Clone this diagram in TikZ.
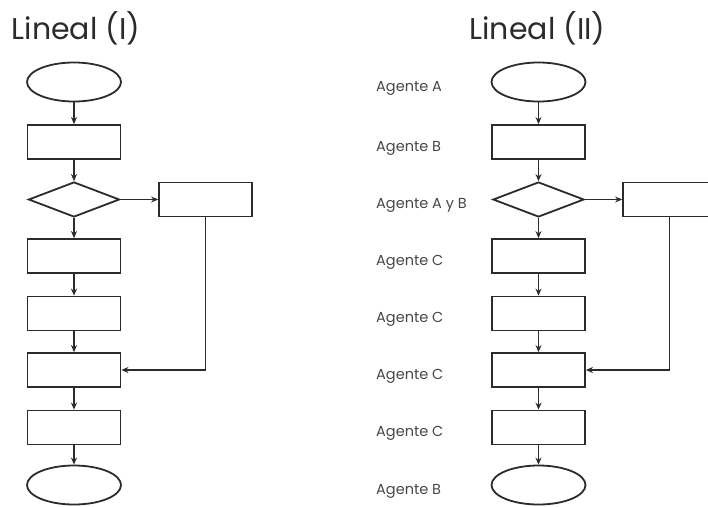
\documentclass[tikz,border=0pt]{standalone}
\usepackage{fontspec}
\setmainfont{Poppins}
\usetikzlibrary{shapes.geometric,arrows.meta}
\definecolor{inkgray}{HTML}{2B2B2B}
\definecolor{labelgray}{HTML}{474747}

\begin{document}
\begin{tikzpicture}[x=1pt,y=-1pt,>={Stealth[length=7pt,width=6pt]},draw=inkgray]
	\def \colone{74}
	\def \coltwo{538.5}
	\def \sideone{205.5}
	\def \sidetwo{669.5}
	\def \labelx{376}
	\def \rowa{82}
	\def \rowb{142}
	\def \rowc{199.5}
	\def \rowd{256}
	\def \rowe{313.5}
	\def \rowf{370}
	\def \rowg{427.5}
	\def \rowh{485}
	\tikzstyle{t-node}=[ellipse,draw=inkgray,line width=1.8pt,minimum width=94pt,minimum height=39pt,inner sep=0pt]
	\tikzstyle{p-node}=[rectangle,draw=inkgray,line width=1.8pt,minimum width=93pt,minimum height=34pt,inner sep=0pt]
	\tikzstyle{q-node}=[diamond,draw=inkgray,line width=1.8pt,minimum width=91pt,minimum height=35pt,inner sep=0pt]
	\tikzstyle{flow}=[->,draw=inkgray,line width=1.5pt]
	\tikzstyle{title}=[text=inkgray,font=\fontsize{30}{32}\selectfont]
	\tikzstyle{agent}=[anchor=base west,text=labelgray,inner sep=0pt,font=\fontsize{14.5}{16}\selectfont]
	\useasboundingbox (0,0) rectangle (708,506);

	% titles
	\node[title] (title-one) at (76,28) {Lineal (I)};
	\node[title] (title-two) at (537.5,28) {Lineal (II)};

	% labels
	\node[agent] (ag-a) at (\labelx,\rowa+9) {Agente A};
	\node[agent] (ag-b) at (\labelx,\rowb+9) {Agente B};
	\node[agent] (ag-c) at (\labelx,\rowc+9) {Agente A y B};
	\node[agent] (ag-d) at (\labelx,\rowd+9) {Agente C};
	\node[agent] (ag-e) at (\labelx,\rowe+9) {Agente C};
	\node[agent] (ag-f) at (\labelx,\rowf+9) {Agente C};
	\node[agent] (ag-g) at (\labelx,\rowg+9) {Agente C};
	\node[agent] (ag-h) at (\labelx,\rowh+9) {Agente B};

	% lineal (I)
	\node[t-node] (a1) at (\colone,\rowa) {};
	\node[p-node] (b1) at (\colone,\rowb) {};
	\node[q-node] (c1) at (\colone,\rowc) {};
	\node[p-node] (s1) at (\sideone,\rowc) {};
	\node[p-node] (d1) at (\colone,\rowd) {};
	\node[p-node] (e1) at (\colone,\rowe) {};
	\node[p-node] (f1) at (\colone,\rowf) {};
	\node[p-node] (g1) at (\colone,\rowg) {};
	\node[t-node] (h1) at (\colone,\rowh) {};

	% lineal (II)
	\node[t-node] (a2) at (\coltwo,\rowa) {};
	\node[p-node] (b2) at (\coltwo,\rowb) {};
	\node[q-node] (c2) at (\coltwo,\rowc) {};
	\node[p-node] (s2) at (\sidetwo,\rowc) {};
	\node[p-node] (d2) at (\coltwo,\rowd) {};
	\node[p-node] (e2) at (\coltwo,\rowe) {};
	\node[p-node] (f2) at (\coltwo,\rowf) {};
	\node[p-node] (g2) at (\coltwo,\rowg) {};
	\node[t-node] (h2) at (\coltwo,\rowh) {};

	\path[flow]
		(a1)	edge	(b1)
		(b1)	edge	(c1)
		(c1)	edge	(s1)
		(c1)	edge	(d1)
		(d1)	edge	(e1)
		(e1)	edge	(f1)
		(f1)	edge	(g1)
		(g1)	edge	(h1)
		%
		(a2)	edge	(b2)
		(b2)	edge	(c2)
		(c2)	edge	(s2)
		(c2)	edge	(d2)
		(d2)	edge	(e2)
		(e2)	edge	(f2)
		(f2)	edge	(g2)
		(g2)	edge	(h2);

	\draw[flow] (s1.south) |- (f1.east);
	\draw[flow] (s2.south) |- (f2.east);
\end{tikzpicture}
\end{document}
